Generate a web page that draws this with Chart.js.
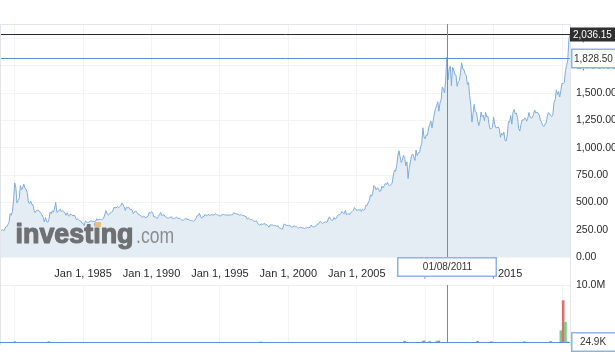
<!DOCTYPE html>
<html><head><meta charset="utf-8">
<script src="https://cdn.jsdelivr.net/npm/chart.js@4/dist/chart.umd.min.js"></script>
<style>
html,body{margin:0;padding:0;background:#fff;width:615px;height:356px;overflow:hidden;}
#price{position:absolute;left:0;top:0;}
#vol{position:absolute;left:0;top:270px;}
</style></head><body>
<canvas id="price" width="615" height="280"></canvas>
<canvas id="vol" width="615" height="86"></canvas>
<script>
// ---- data ----
const startYear = 1979; // first month: Jan 1979, monthly closes
const goldClose = [
240,251,240,245,274,277,296,315,397,382,415,512,
677,637,494,518,535,653,614,631,668,629,619,590,
502,489,513,482,479,426,406,425,428,427,414,397,
387,362,320,361,325,317,342,411,397,423,410,448,
500,408,414,429,437,416,422,414,405,382,405,382,
373,395,388,375,384,374,342,348,341,333,329,309,
306,288,330,321,316,317,327,333,324,325,325,327,
350,339,344,345,342,345,357,385,424,401,383,391,
405,408,421,453,452,448,462,453,460,469,493,484,
459,426,457,450,456,436,437,427,397,412,423,410,
394,387,383,377,362,373,368,359,366,375,408,401,
415,407,368,368,363,352,372,387,408,380,384,386,
367,362,355,357,361,368,363,347,354,358,366,353,
354,353,341,336,337,343,357,340,349,339,334,333,
330,327,337,354,378,378,401,372,355,370,370,391,
377,381,392,376,387,386,384,385,395,389,383,383,
375,376,392,389,384,387,383,383,384,383,387,387,
405,400,396,392,391,382,385,387,379,379,371,369,
345,358,348,340,345,334,326,325,332,311,296,290,
304,297,301,310,293,296,288,273,294,292,294,288,
287,287,280,286,268,262,255,255,299,300,291,290,
283,294,278,275,272,288,276,277,273,264,270,274,
265,267,258,264,267,270,266,273,293,278,275,279,
282,297,301,308,326,318,304,312,323,317,319,347,
368,347,334,336,361,346,354,375,388,386,398,416,
403,396,427,388,394,395,391,408,416,428,452,438,
422,435,428,436,417,437,429,434,473,470,495,517,
569,556,584,654,643,614,633,626,599,604,648,632,
650,672,663,683,659,650,665,673,743,794,783,834,
923,972,916,865,886,930,912,834,871,718,816,869,
927,942,916,883,979,927,955,955,1008,1040,1182,1097,
1081,1117,1115,1180,1213,1244,1181,1248,1307,1357,1384,1421,
1333,1410,1439,1556,1536,1500,1628,1828.5,1620,1722,1746,1566,
1737,1710,1669,1664,1561,1604,1615,1687,1776,1719,1714,1675,
1664,1578,1596,1476,1392,1234,1313,1396,1327,1323,1250,1202,
1240,1326,1284,1296,1246,1322,1282,1287,1210,1171,1175,1184,
1279,1212,1183,1183,1190,1172,1095,1132,1115,1142,1065,1061,
1118,1238,1234,1293,1215,1322,1350,1309,1316,1273,1173,1152,
1211,1255,1249,1268,1269,1242,1270,1322,1280,1271,1275,1303,
1345,1318,1325,1316,1299,1253,1233,1206,1192,1215,1223,1281,
1321,1313,1293,1284,1305,1413,1437,1529,1485,1514,1464,1523,
1589,1585,1596,1702,1751,1800,1986,2036.15
];
const xTickYears  = [1980, 1985, 1990, 1995, 2000, 2005, 2010, 2015, 2020];
const xTickLabels = ['', 'Jan 1, 1985', 'Jan 1, 1990', 'Jan 1, 1995', 'Jan 1, 2000', 'Jan 1, 2005', 'Jan 1, 2010', 'Jan 1, 2015', ''];
const priceTicks = [0, 250, 500, 750, 1000, 1250, 1500, 1750, 2000];
const volTicks = [10000000];
const volDates  = ['1980-01','1982-07','1998-01','2008-07','2009-11','2009-12','2010-05','2010-11','2011-01','2013-11','2014-11','2017-04','2019-03','2019-12','2020-02','2020-04','2020-06'];
const volValues = [250000,250000,200000,300000,250000,350000,300000,300000,350000,300000,250000,250000,250000,2100000,7300000,3600000,200000];
const volUp     = [true,true,true,false,true,false,true,true,false,false,true,true,false,true,false,true,true];
const lastPrice = 2036.15;
const crossDate = '2011-08';
const crossDateLabel = '01/08/2011';
const crossPrice = 1828.50;
const crossVolume = 24900;
const crossVolumeLabel = '24.9K';

// ---- helpers ----
const FONT = 'Arial, "Liberation Sans", sans-serif';
const toYear = s => { const [y, m] = s.split('-').map(Number); return y + (m - 1) / 12; };
const xMin = startYear, xMax = startYear + (goldClose.length - 1) / 12;
const crossX = toYear(crossDate);
const BLUE = '#5b90d8', BOX = '#8fb4e3', GRID = '#f3f3f3', FRAME = '#e2e5ea';
const fmt2 = v => v.toLocaleString('en-US', {minimumFractionDigits: 2, maximumFractionDigits: 2});

function hline(ctx, x1, x2, y, color) { ctx.save(); ctx.strokeStyle = color; ctx.lineWidth = 1; ctx.beginPath(); ctx.moveTo(x1, Math.round(y) + 0.5); ctx.lineTo(x2, Math.round(y) + 0.5); ctx.stroke(); ctx.restore(); }
function vline(ctx, x, y1, y2, color) { ctx.save(); ctx.strokeStyle = color; ctx.lineWidth = 1; ctx.beginPath(); ctx.moveTo(Math.round(x) + 0.5, y1); ctx.lineTo(Math.round(x) + 0.5, y2); ctx.stroke(); ctx.restore(); }
function box(ctx, x, y, w, h, fill, stroke, text, color, align, tx) {
  ctx.save();
  ctx.fillStyle = fill; ctx.fillRect(x, y, w, h);
  if (stroke) { ctx.strokeStyle = stroke; ctx.lineWidth = 1.5; ctx.strokeRect(x + 0.75, y + 0.75, w - 1.5, h - 1.5); }
  ctx.fillStyle = color; ctx.font = '10px ' + FONT; ctx.textBaseline = 'middle'; ctx.textAlign = align;
  ctx.fillText(text, tx, y + h / 2 + 0.5);
  ctx.restore();
}

const priceOverlay = {
  id: 'priceOverlay',
  afterDatasetsDraw(chart) {
    const ctx = chart.ctx;
    // watermark logo
    ctx.save();
    ctx.fillStyle = '#6e7073'; ctx.strokeStyle = '#6e7073'; ctx.lineWidth = 1.2; ctx.lineJoin = 'round';
    ctx.font = 'bold 28px ' + FONT;
    ctx.textBaseline = 'alphabetic';
    ctx.translate(15.5, 243); ctx.scale(0.96, 1); ctx.fillText('investing', 0, 0); ctx.strokeText('investing', 0, 0);
    ctx.restore();
    ctx.save();
    ctx.fillStyle = '#8b8d90';
    ctx.font = '22px ' + FONT;
    ctx.translate(136, 243); ctx.scale(0.8, 1); ctx.fillText('.com', 0, 0);
    ctx.restore();
    ctx.save(); ctx.fillStyle = '#e6c07c'; ctx.fillRect(95, 222, 6, 5); ctx.restore();
  },
  afterDraw(chart) {
    const ctx = chart.ctx, a = chart.chartArea, xs = chart.scales.x, ys = chart.scales.y;
    // frame
    hline(ctx, a.left - 1, a.right, a.top - 1, FRAME);
    vline(ctx, a.left - 1, a.top - 1, chart.height, FRAME);
    vline(ctx, a.right, a.top - 1, chart.height, FRAME);
    // current price line + crosshair
    hline(ctx, a.left, a.right, ys.getPixelForValue(lastPrice), '#2b2b2b');
    hline(ctx, a.left, a.right, ys.getPixelForValue(crossPrice) + 1, BLUE);
    const cx = xs.getPixelForValue(crossX);
    vline(ctx, cx, a.top - 1, a.bottom, BLUE);
    // right-side value boxes
    const yl = Math.round(ys.getPixelForValue(lastPrice)) + 0.5;
    box(ctx, a.right, yl - 7, 46, 14, '#2f2f2f', null, fmt2(lastPrice), '#ffffff', 'left', a.right + 3);
    const yc = Math.round(ys.getPixelForValue(crossPrice) + 1) + 0.5;
    box(ctx, a.right + 1, yc - 10, 46, 20, '#ffffff', BOX, fmt2(crossPrice), '#333333', 'left', a.right + 4);
    // date box
    box(ctx, Math.round(cx) - 50, a.bottom, 100, 20, '#ffffff', BOX, crossDateLabel, '#333333', 'center', Math.round(cx) + 0.5);
  }
};

new Chart(document.getElementById('price'), {
  type: 'line',
  data: { datasets: [{
    data: goldClose.map((v, i) => ({x: startYear + i / 12, y: v})),
    borderColor: '#80acdc', borderWidth: 1, backgroundColor: '#e5edf4',
    fill: 'origin', pointRadius: 0, tension: 0
  }]},
  options: {
    responsive: false, animation: false, devicePixelRatio: 1,
    layout: { padding: {left: 1, top: 25, right: 0, bottom: 0} },
    plugins: { legend: {display: false}, tooltip: {enabled: false} },
    scales: {
      x: {
        type: 'linear', min: xMin, max: xMax,
        afterBuildTicks: s => { s.ticks = xTickYears.map(v => ({value: v})); },
        afterFit: s => { s.height = 23; },
        grid: {color: GRID, drawTicks: false},
        border: {display: false},
        ticks: {padding: 10, color: '#2a2a2a', font: {family: FONT, size: 11}, maxRotation: 0, autoSkip: false,
                callback: (v, i) => xTickLabels[i]}
      },
      y: {
        position: 'right', min: 0, max: 2122,
        afterBuildTicks: s => { s.ticks = priceTicks.map(v => ({value: v})); },
        afterFit: s => { s.width = 45; },
        grid: {color: GRID, drawTicks: false},
        border: {display: false},
        ticks: {padding: 6, color: '#2a2a2a', font: {family: FONT, size: 10.5}, callback: v => fmt2(v)}
      }
    }
  },
  plugins: [priceOverlay]
});

const volOverlay = {
  id: 'volOverlay',
  afterDraw(chart) {
    const ctx = chart.ctx, a = chart.chartArea, xs = chart.scales.x, ys = chart.scales.y;
    vline(ctx, a.left - 1, a.top - 6, a.bottom + 2, FRAME);
    vline(ctx, a.right, a.top - 6, a.bottom + 4, FRAME);
    const cx = xs.getPixelForValue(crossX);
    vline(ctx, cx, a.top, a.bottom, BLUE);
    const yv = ys.getPixelForValue(crossVolume);
    hline(ctx, a.left - 1, a.right, yv - 1, BLUE);
    box(ctx, a.right + 1, Math.round(yv) - 11, 46, 20, '#ffffff', BOX, crossVolumeLabel, '#333333', 'center', a.right + 23);
  }
};

new Chart(document.getElementById('vol'), {
  type: 'bar',
  data: { datasets: [{
    data: volDates.map((d, i) => ({x: toYear(d), y: volValues[i]})),
    backgroundColor: volUp.map(u => u ? '#7dcb84' : '#d9716b'),
    barThickness: 2
  }]},
  options: {
    responsive: false, animation: false, devicePixelRatio: 1,
    layout: { padding: {left: 1, top: 15, right: 0, bottom: 13} },
    plugins: { legend: {display: false}, tooltip: {enabled: false} },
    scales: {
      x: {
        type: 'linear', min: xMin, max: xMax, offset: false,
        afterBuildTicks: s => { s.ticks = xTickYears.map(v => ({value: v})); },
        afterFit: s => { s.height = 0; },
        grid: {color: GRID, drawTicks: false, offset: false},
        border: {display: false},
        ticks: {display: false}
      },
      y: {
        position: 'right', min: 0, max: 10000000,
        afterBuildTicks: s => { s.ticks = volTicks.map(v => ({value: v})); },
        afterFit: s => { s.width = 45; },
        grid: {color: '#eeeeee', drawTicks: false},
        border: {display: false},
        ticks: {padding: 6, color: '#2a2a2a', font: {family: FONT, size: 10.5}, callback: v => (v / 1e6).toFixed(1) + 'M'}
      }
    }
  },
  plugins: [volOverlay]
});
</script>
</body></html>
